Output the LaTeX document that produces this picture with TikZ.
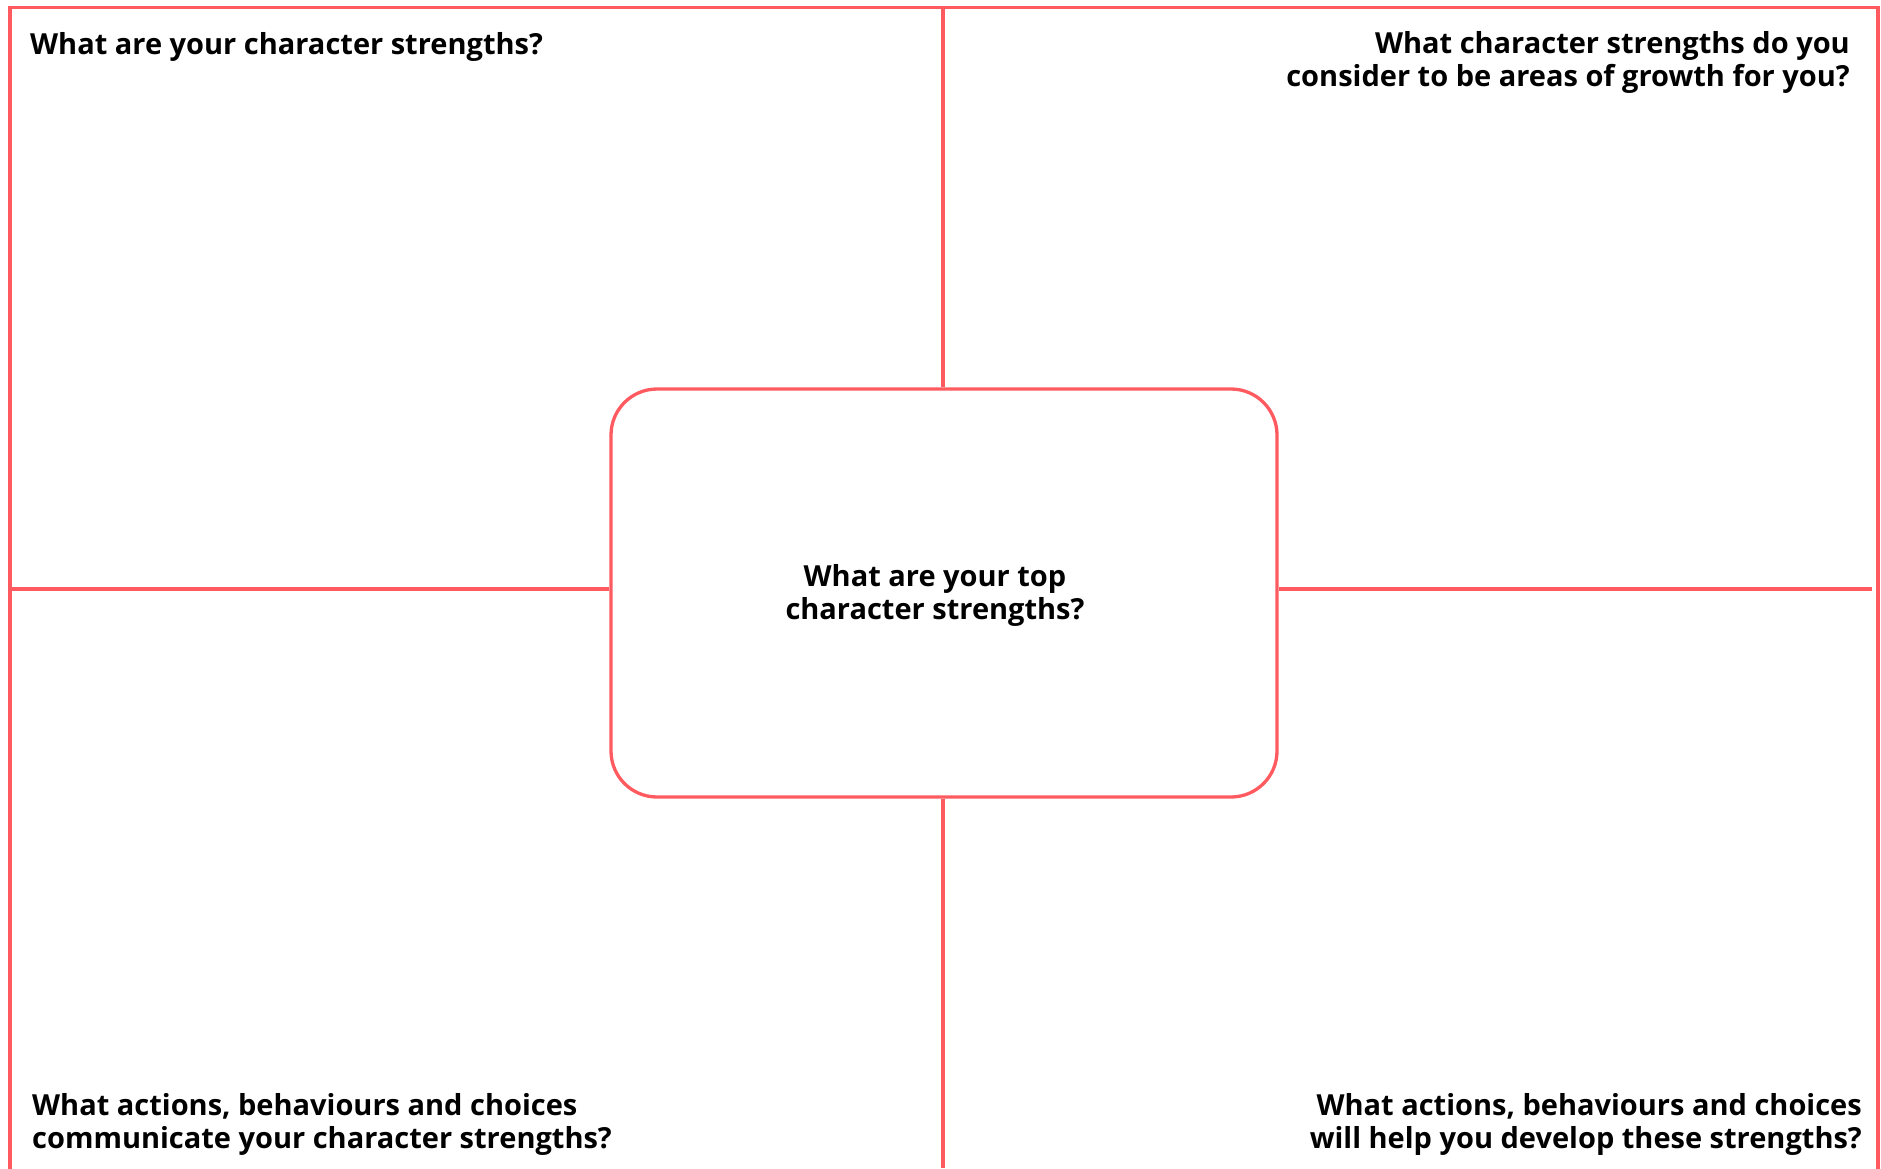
\documentclass[tikz,border=0pt]{standalone}
\usepackage{fontspec}
\setmainfont{Open Sans}
\definecolor{framered}{RGB}{255,90,95}
\tikzset{
  frameline/.style={draw=framered, line width=3.3pt},
  question/.style={font=\bfseries\fontsize{29}{32.4}\selectfont, inner sep=0pt, text=black},
}
\begin{document}
\begin{tikzpicture}[x=1pt,y=-1pt]
\useasboundingbox (0,0) rectangle (1881,1168);
\coordinate (tl) at (10,7.5);
\coordinate (tr) at (1878,7.5);
\coordinate (bl) at (10,1168);
\coordinate (br) at (1878,1168);
\coordinate (hl) at (10,589);
\coordinate (hr) at (1872,589);
\coordinate (vb) at (943,1168);
\node[frameline, rounded corners=46pt, minimum width=666pt, minimum height=408pt, inner sep=0pt] (center) at (944,593) {};
\draw[frameline, line cap=rect] (bl) -- (tl) -- (tr) -- (br);
\draw[frameline] (center.north -| vb) -- (tl -| vb);
\draw[frameline] (center.south -| vb) -- (vb);
\draw[frameline] (center.west |- hl) -- (hl);
\draw[frameline] (center.east |- hr) -- (hr);
\node[question, anchor=base west] (q1) at (30,54) {What are your character strengths?};
\node[question, anchor=base east, align=right] (q2) at (1850,86) {What character strengths do you\\consider to be areas of growth for you?};
\node[question, anchor=base west, align=left] (q3) at (32,1148) {What actions, behaviours and choices\\communicate your character strengths?};
\node[question, anchor=base east, align=right] (q4) at (1862,1148) {What actions, behaviours and choices\\will help you develop these strengths?};
\node[question, anchor=base, align=center] (q5) at (935,619) {What are your top\\character strengths?};
\end{tikzpicture}
\end{document}
